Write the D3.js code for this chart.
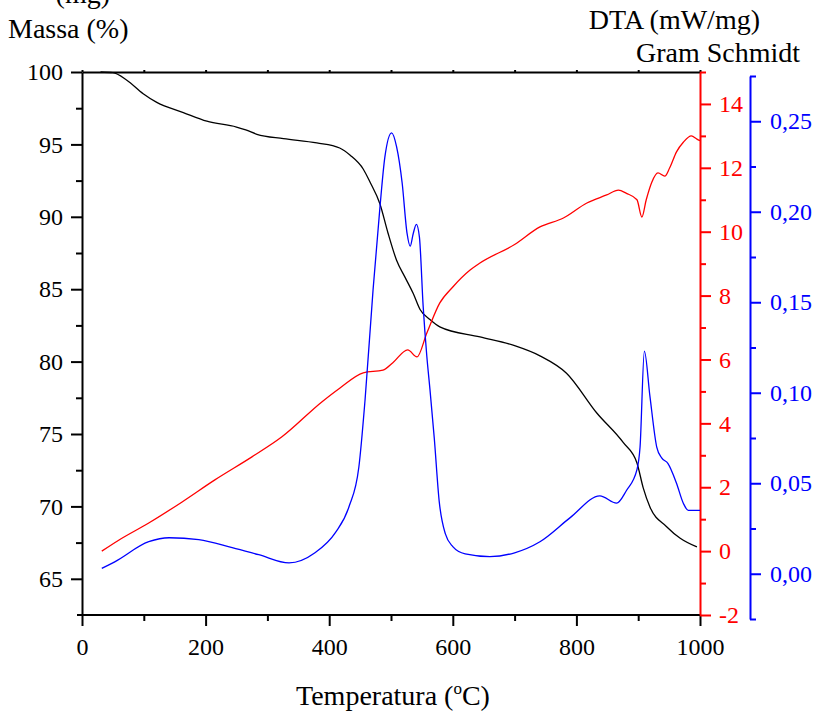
<!DOCTYPE html>
<html>
<head>
<meta charset="UTF-8">
<script src="https://d3js.org/d3.v7.min.js"></script>
<style>
    body { margin: 0; background: #fff; }
    svg text { font-family: "Liberation Serif", Tinos, "Times New Roman", "DejaVu Serif", serif !important; }
</style>
</head>
<body>
<svg id="chart" width="817" height="712"></svg>
<script>
    // Massa (%) vs temperatura
    const massT = [30, 50, 72, 99, 121, 164, 202, 250, 265, 283, 326, 380, 417, 434, 455, 466, 482, 495, 509, 523, 536, 547, 563, 579, 644, 700, 741, 784, 833, 876, 898, 908, 919, 946, 968, 995];
    const massV = [100, 99.95, 99.45, 98.5, 97.9, 97.2, 96.6, 96.2, 96.0, 95.7, 95.4, 95.1, 94.75, 94.25, 93.3, 92.4, 90.9, 88.9, 87.0, 85.8, 84.7, 83.6, 82.9, 82.4, 81.7, 81.1, 80.4, 79.2, 76.45, 74.4, 73.0, 71.3, 69.96, 68.6, 67.8, 67.2];

    // DTA (mW/mg)
    const dtaT = [32, 60, 108, 162, 215, 275, 323, 388, 417, 455, 487, 503, 527, 542, 558, 579, 600, 628, 644, 700, 741, 779, 817, 849, 868, 881, 898, 906, 913, 922, 932, 943, 951, 962, 973, 986, 995, 1000];
    const dtaV = [0.0, 0.35, 0.88, 1.54, 2.23, 2.95, 3.57, 4.67, 5.1, 5.58, 5.67, 5.9, 6.3, 6.08, 6.83, 7.77, 8.27, 8.8, 9.02, 9.6, 10.15, 10.43, 10.9, 11.15, 11.3, 11.2, 11.0, 10.46, 11.0, 11.55, 11.84, 11.74, 12.0, 12.5, 12.8, 13.0, 12.9, 12.85];

    // Gram Schmidt
    const gsT = [32, 53, 108, 141, 189, 243, 286, 335, 377, 410, 432, 448, 458, 471, 482, 490, 501, 509, 518, 526, 531, 536, 541, 546, 552, 558, 563, 570, 578, 588, 600, 620, 660, 700, 741, 790, 838, 865, 881, 898, 903, 910, 919, 930, 938, 948, 962, 973, 981, 995, 1000];
    const gsV = [0.003, 0.0066, 0.0177, 0.0199, 0.0188, 0.0144, 0.0105, 0.006, 0.0116, 0.0227, 0.037, 0.059, 0.096, 0.157, 0.202, 0.230, 0.2436, 0.236, 0.216, 0.188, 0.181, 0.188, 0.193, 0.186, 0.148, 0.12, 0.102, 0.075, 0.04, 0.022, 0.015, 0.011, 0.0095, 0.0116, 0.0177, 0.031, 0.043, 0.039, 0.046, 0.0575, 0.070, 0.123, 0.098, 0.070, 0.064, 0.061, 0.050, 0.039, 0.035, 0.035, 0.035];

    const xTicks = [0, 200, 400, 600, 800, 1000];
    const xMinor = [100, 300, 500, 700, 900];
    const massTicks = [65, 70, 75, 80, 85, 90, 95, 100];
    const massMinor = [67.5, 72.5, 77.5, 82.5, 87.5, 92.5, 97.5];
    const dtaTicks = [-2, 0, 2, 4, 6, 8, 10, 12, 14];
    const dtaMinor = [-1, 1, 3, 5, 7, 9, 11, 13, 15];
    const gsTicks = [0, 0.05, 0.10, 0.15, 0.20, 0.25];
    const gsMinor = [-0.025, 0.025, 0.075, 0.125, 0.175, 0.225, 0.275];

    const FONT = '"Liberation Serif", Tinos, "Times New Roman", "DejaVu Serif", serif';

    const svg = d3.select("#chart").attr("font-family", FONT);

    const x = d3.scaleLinear().domain([0, 1000]).range([82, 700]);
    const yM = d3.scaleLinear().domain([62.5, 100]).range([615, 72]);
    const yD = d3.scaleLinear().domain([-2, 15]).range([615, 72]);
    const yG = d3.scaleLinear().domain([-0.025, 0.275]).range([619, 76]);

    function styleAxis(g, color) {
        g.attr("font-family", FONT);
        g.selectAll("path").attr("stroke", color).attr("stroke-width", 2);
        g.selectAll("line").attr("stroke", color).attr("stroke-width", 2);
        g.selectAll("text").attr("fill", color).style("font-size", "24px").style("font-family", FONT);
    }

    // top frame line
    svg.append("g")
        .attr("transform", "translate(0,72)")
        .call(d3.axisTop(x).tickValues(d3.range(0, 1001, 100)).tickSize(2).tickSizeOuter(0).tickFormat(""))
        .call(g => styleAxis(g, "#000"));

    // bottom axis
    const gx = svg.append("g")
        .attr("transform", "translate(0,615)")
        .call(d3.axisBottom(x).tickValues(xTicks).tickSize(11).tickPadding(12).tickSizeOuter(0).tickFormat(d => d))
        .call(g => styleAxis(g, "#000"));
    gx.select("path").attr("d", "M77,0H700");
    svg.append("g")
        .attr("transform", "translate(0,615)")
        .call(d3.axisBottom(x).tickValues(xMinor).tickSize(6).tickFormat(""))
        .call(g => { styleAxis(g, "#000"); g.select("path").remove(); });

    // left axis (massa)
    svg.append("g")
        .attr("transform", "translate(82,0)")
        .call(d3.axisLeft(yM).tickValues(massTicks).tickSize(11).tickPadding(8).tickSizeOuter(0).tickFormat(d => d))
        .call(g => styleAxis(g, "#000"));
    svg.append("g")
        .attr("transform", "translate(82,0)")
        .call(d3.axisLeft(yM).tickValues(massMinor).tickSize(6).tickFormat(""))
        .call(g => { styleAxis(g, "#000"); g.select("path").remove(); });

    // right axis red (DTA)
    svg.append("g")
        .attr("transform", "translate(700,0)")
        .call(d3.axisRight(yD).tickValues(dtaTicks).tickSize(11).tickPadding(8).tickSizeOuter(0).tickFormat(d => String(d)))
        .call(g => styleAxis(g, "#ff0000"));
    svg.append("g")
        .attr("transform", "translate(700,0)")
        .call(d3.axisRight(yD).tickValues(dtaMinor).tickSize(6).tickFormat(""))
        .call(g => { styleAxis(g, "#ff0000"); g.select("path").remove(); });

    // right axis blue (Gram Schmidt)
    svg.append("g")
        .attr("transform", "translate(750,0)")
        .call(d3.axisRight(yG).tickValues(gsTicks).tickSize(11).tickPadding(9).tickSizeOuter(0)
            .tickFormat(d => d3.format(".2f")(d).replace(".", ",")))
        .call(g => styleAxis(g, "#0000ff"));
    svg.append("g")
        .attr("transform", "translate(750,0)")
        .call(d3.axisRight(yG).tickValues(gsMinor).tickSize(6).tickFormat(""))
        .call(g => { styleAxis(g, "#0000ff"); g.select("path").remove(); });

    // curves
    const series = [
        { t: massT, v: massV, y: yM, color: "#000" },
        { t: dtaT, v: dtaV, y: yD, color: "#ff0000" },
        { t: gsT, v: gsV, y: yG, color: "#0000ff" }
    ];
    series.forEach(s => {
        const line = d3.line().x(d => x(d[0])).y(d => s.y(d[1])).curve(d3.curveMonotoneX);
        svg.append("path")
            .datum(d3.zip(s.t, s.v))
            .attr("d", line)
            .attr("fill", "none")
            .attr("stroke", s.color)
            .attr("stroke-width", 1.3);
    });

    // titles
    function title(xp, yp, anchor, txt) {
        return svg.append("text").attr("x", xp).attr("y", yp).attr("text-anchor", anchor)
            .style("font-size", "28px").style("font-family", FONT).text(txt);
    }
    title(110, 3, "end", "(mg)");
    title(8, 38, "start", "Massa (%)");
    title(760, 29, "end", "DTA (mW/mg)");
    title(800, 62, "end", "Gram Schmidt");

    const xl = svg.append("text").attr("x", 393).attr("y", 705).attr("text-anchor", "middle")
        .style("font-size", "28px").style("font-family", FONT);
    xl.append("tspan").text("Temperatura (");
    xl.append("tspan").attr("dy", -11).style("font-size", "17px").text("o");
    xl.append("tspan").attr("dy", 11).text("C)");
</script>
</body>
</html>
